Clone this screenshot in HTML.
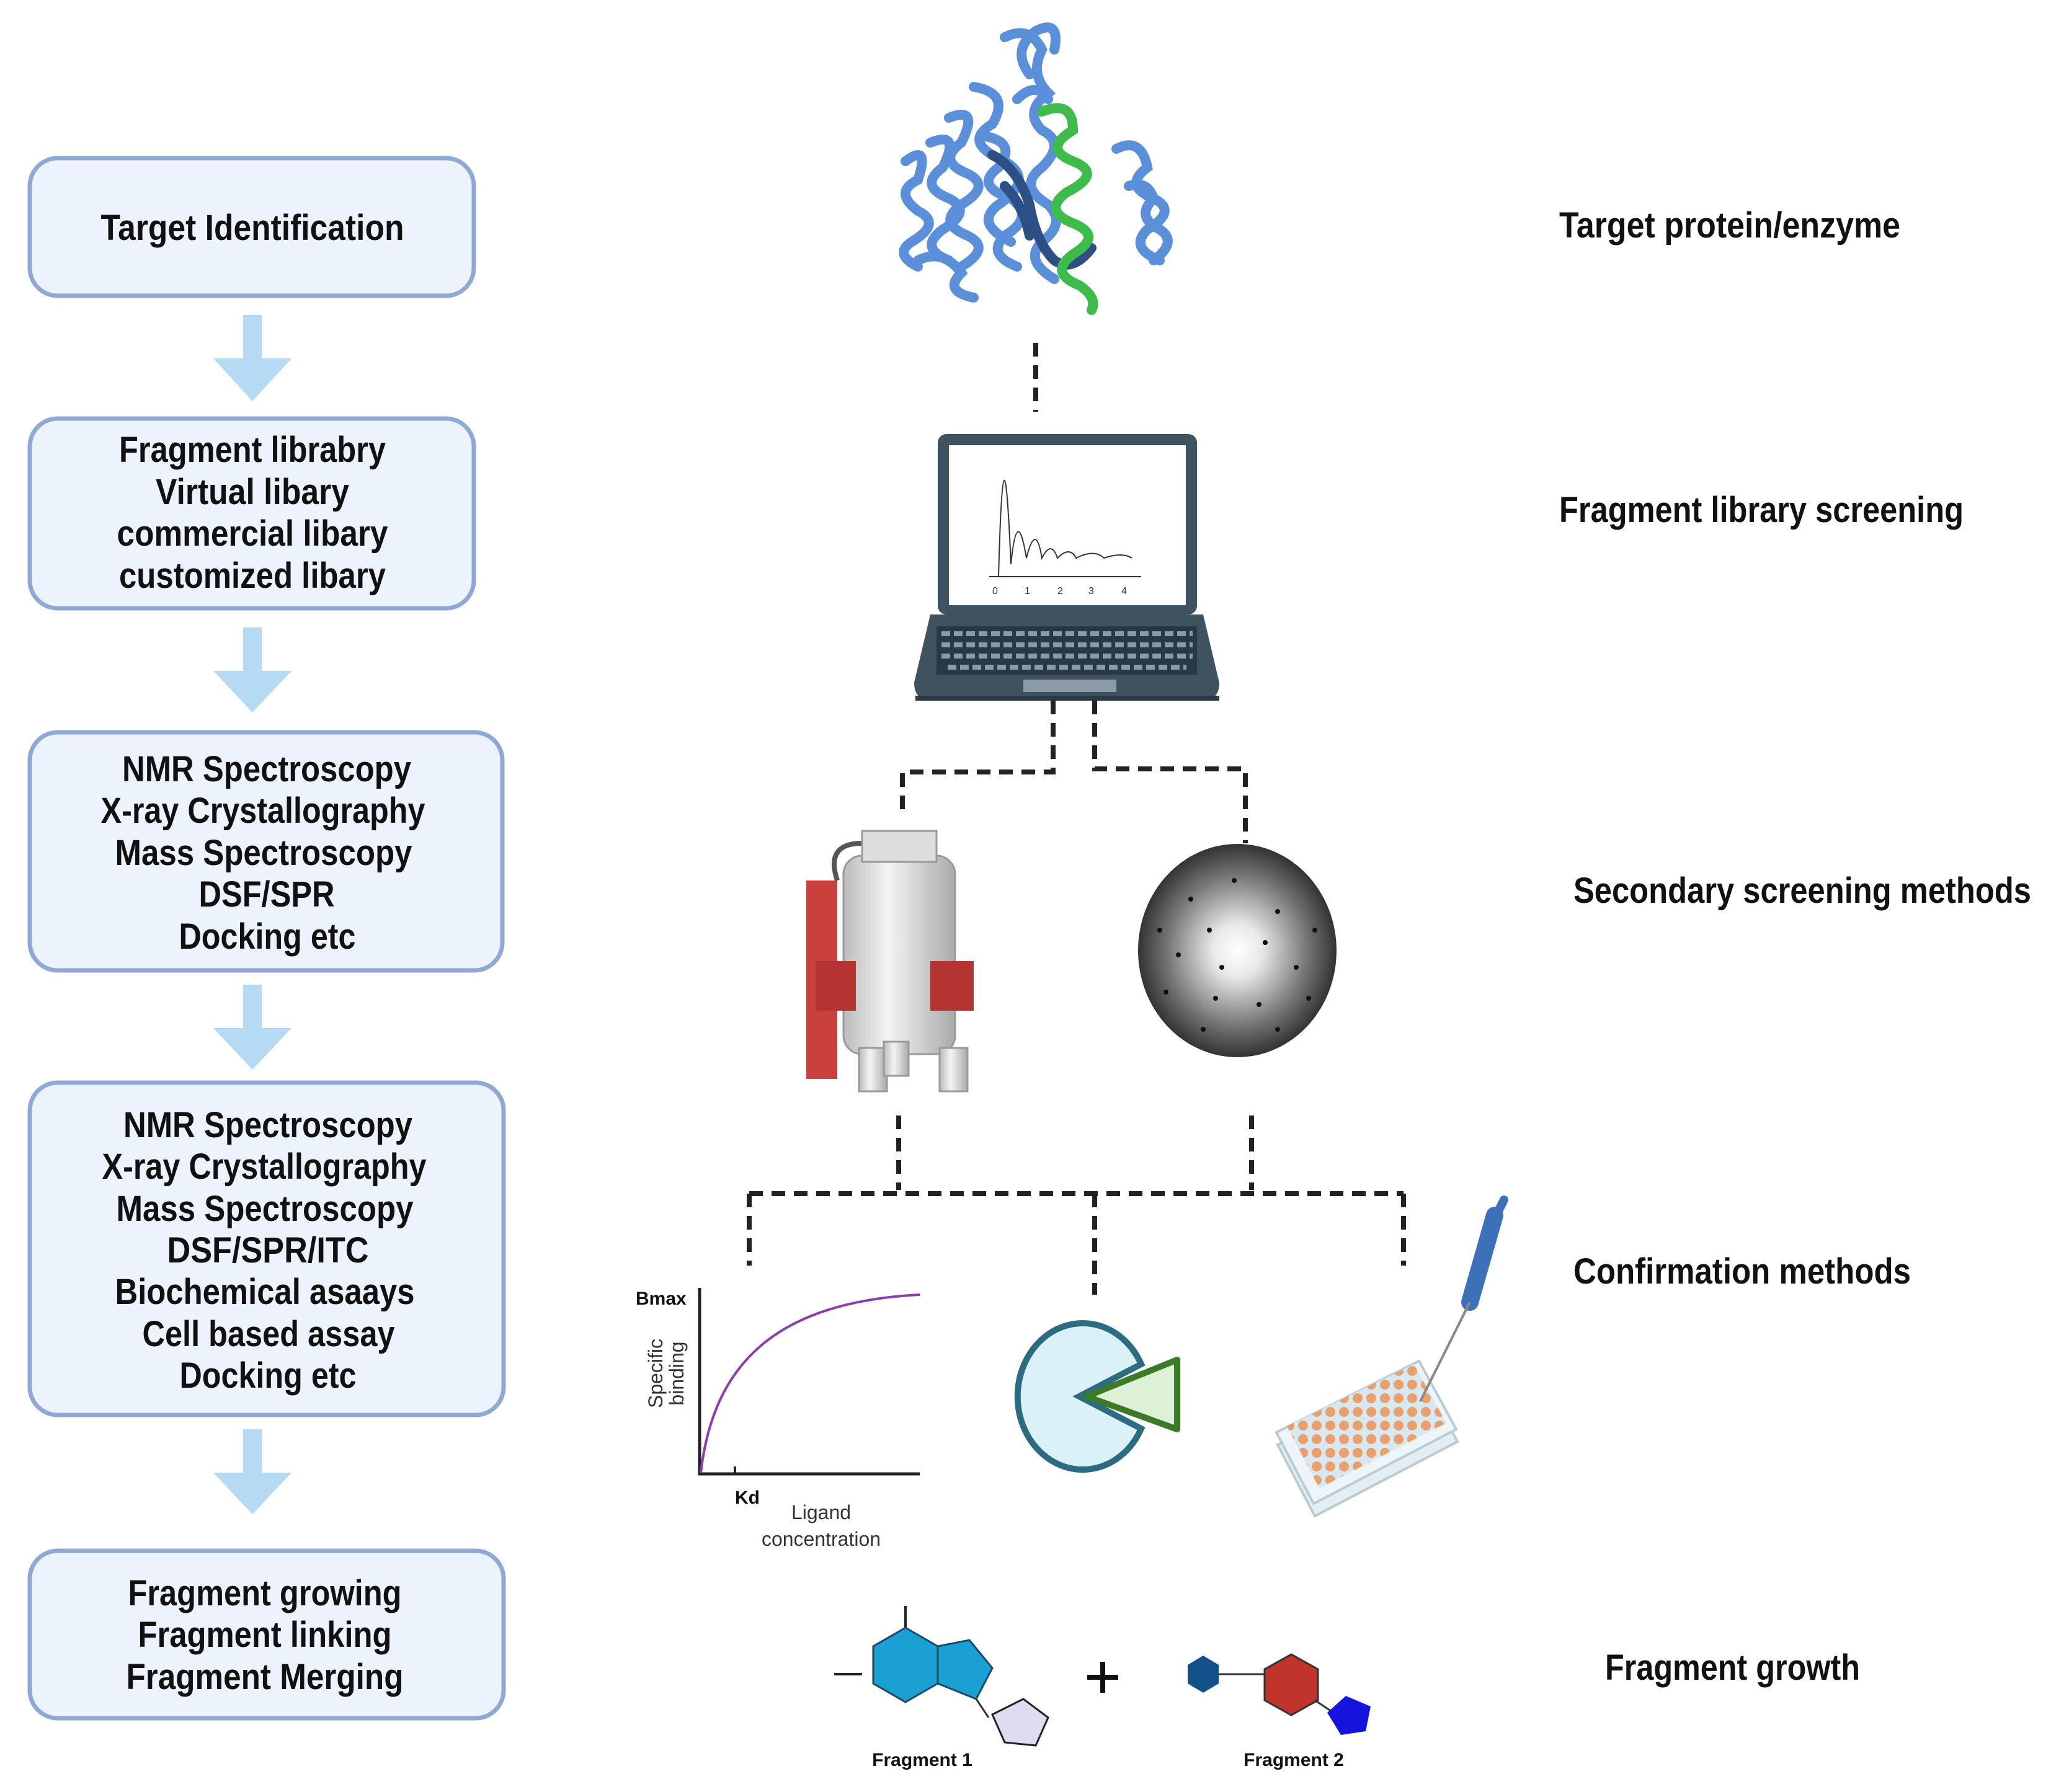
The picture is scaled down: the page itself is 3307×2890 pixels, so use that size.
<!DOCTYPE html>
<html><head><meta charset="utf-8"><style>
html,body{margin:0;padding:0;background:#fff;}
svg{display:block;}
text{font-family:"Liberation Sans",sans-serif;}
.b{font-weight:bold;font-size:58px;fill:#111;}
</style></head><body>
<svg width="3307" height="2890" viewBox="0 0 3307 2890" xmlns="http://www.w3.org/2000/svg">
<defs>
<radialGradient id="xr" cx="50%" cy="50%" r="50%">
<stop offset="0" stop-color="#fff"/><stop offset="0.25" stop-color="#e8e8e8"/><stop offset="0.7" stop-color="#777"/><stop offset="1" stop-color="#333"/>
</radialGradient>
<linearGradient id="cyl" x1="0" x2="1"><stop offset="0" stop-color="#bbb"/><stop offset="0.4" stop-color="#f4f4f4"/><stop offset="1" stop-color="#aaa"/></linearGradient>
<pattern id="wells" width="22" height="22" patternUnits="userSpaceOnUse"><rect width="22" height="22" fill="#d8e8ee"/><circle cx="11" cy="11" r="8" fill="#e9a06e"/></pattern>
</defs>
<g fill="#edf3fc" stroke="#8fa8d6" stroke-width="7">
<rect x="48" y="255" width="716" height="222" rx="45"/>
<rect x="48" y="675" width="716" height="306" rx="45"/>
<rect x="48" y="1181" width="762" height="384" rx="45"/>
<rect x="48" y="1746" width="764" height="536" rx="45"/>
<rect x="48" y="2501" width="764" height="270" rx="45"/>
</g>
<g fill="#b6daf3">
<path d="M392 508h30v70h48l-63 69l-63-69h48z"/>
<path d="M392 1012h30v70h48l-63 67l-63-67h48z"/>
<path d="M392 1588h30v70h48l-63 67l-63-67h48z"/>
<path d="M392 2305h30v70h48l-63 67l-63-67h48z"/>
</g>
<g class="b" text-anchor="middle">
<text x="407" y="387" textLength="489" lengthAdjust="spacingAndGlyphs">Target Identification</text>
<text x="407" y="745" textLength="430" lengthAdjust="spacingAndGlyphs">Fragment librabry</text>
<text x="407" y="813" textLength="312" lengthAdjust="spacingAndGlyphs">Virtual libary</text>
<text x="407" y="880" textLength="437" lengthAdjust="spacingAndGlyphs">commercial libary</text>
<text x="407" y="948" textLength="430" lengthAdjust="spacingAndGlyphs">customized libary</text>
<text x="430" y="1260" textLength="466" lengthAdjust="spacingAndGlyphs">NMR Spectroscopy</text>
<text x="424" y="1327" textLength="523" lengthAdjust="spacingAndGlyphs">X-ray Crystallography</text>
<text x="425" y="1395" textLength="479" lengthAdjust="spacingAndGlyphs">Mass Spectroscopy</text>
<text x="430" y="1462" textLength="219" lengthAdjust="spacingAndGlyphs">DSF/SPR</text>
<text x="431" y="1530" textLength="285" lengthAdjust="spacingAndGlyphs">Docking etc</text>
<text x="432" y="1834" textLength="466" lengthAdjust="spacingAndGlyphs">NMR Spectroscopy</text>
<text x="426" y="1901" textLength="523" lengthAdjust="spacingAndGlyphs">X-ray Crystallography</text>
<text x="427" y="1969" textLength="479" lengthAdjust="spacingAndGlyphs">Mass Spectroscopy</text>
<text x="432" y="2036" textLength="325" lengthAdjust="spacingAndGlyphs">DSF/SPR/ITC</text>
<text x="427" y="2103" textLength="483" lengthAdjust="spacingAndGlyphs">Biochemical asaays</text>
<text x="433" y="2171" textLength="407" lengthAdjust="spacingAndGlyphs">Cell based assay</text>
<text x="432" y="2238" textLength="285" lengthAdjust="spacingAndGlyphs">Docking etc</text>
<text x="427" y="2589" textLength="441" lengthAdjust="spacingAndGlyphs">Fragment growing</text>
<text x="427" y="2656" textLength="409" lengthAdjust="spacingAndGlyphs">Fragment linking</text>
<text x="427" y="2724" textLength="447" lengthAdjust="spacingAndGlyphs">Fragment Merging</text>
</g>
<g class="b">
<text x="2514" y="383" textLength="550" lengthAdjust="spacingAndGlyphs">Target protein/enzyme</text>
<text x="2514" y="842" textLength="652" lengthAdjust="spacingAndGlyphs">Fragment library screening</text>
<text x="2537" y="1456" textLength="738" lengthAdjust="spacingAndGlyphs">Secondary screening methods</text>
<text x="2537" y="2070" textLength="544" lengthAdjust="spacingAndGlyphs">Confirmation methods</text>
<text x="2588" y="2709" textLength="411" lengthAdjust="spacingAndGlyphs">Fragment growth</text>
</g>
<!-- protein -->
<g fill="none" stroke-linecap="round" stroke-width="16">
<g stroke="#5b8fd9">
<path d="M1460 260q40-30 20 30q-40 20 0 50q40 20-10 50q-30 20 10 40"/>
<path d="M1500 230q50-20 20 40q-40 30 10 50q40 20-10 50q-40 30 10 50"/>
<path d="M1530 190q50-20 20 40q-40 30 10 50q40 20-10 50q-40 30 10 50q40 20-10 50"/>
<path d="M1620 60q40-20 60 20q-20 40 10 70q-40 30-10 60q40 20 0 60q-40 30 10 60q30 30-10 60q-30 30 20 60"/>
<path d="M1570 140q60 10 30 60q-50 30 20 60q50 30-10 70q-40 30 20 60"/>
<path d="M1590 220q50 10 20 50q-40 30 20 50q40 30-10 60q-30 30 20 50"/>
<path d="M1800 240q40-20 50 30q-40 30 10 50q40 20-10 50q-30 30 20 50"/>
<path d="M1820 300q30-10 40 20q-30 30 10 50q30 20-10 50"/>
<path d="M1480 420q40-20 70 20q-30 30 20 40"/>
<path d="M1660 120q-30-40 10-70q40-20 30 30"/>
<path d="M1640 160q30-30 50 0"/>
</g>
<g stroke="#2e4f86"><path d="M1600 250q40 20 60 80q10 60 40 90q30 20 60-20"/><path d="M1620 300q30 30 40 80"/></g>
<g stroke="#3dbb4b"><path d="M1680 180q50-20 50 30q-50 30 0 50q50 20-10 50q-40 30 10 50q50 20 0 50q-40 30 10 50q30 20 20 40"/></g>
</g>
<path d="M1670 553V664" stroke="#222" stroke-width="8" stroke-dasharray="22 14"/>
<!-- laptop -->
<rect x="1512" y="700" width="418" height="291" rx="14" fill="#3e5260"/>
<rect x="1530" y="718" width="382" height="258" fill="#fff"/>
<path d="M1500 991h440l26 110q0 28-26 28h-440q-26 0-26-28z" fill="#3e5260"/>
<rect x="1510" y="1010" width="420" height="78" fill="#283844"/>
<g stroke="#8a9aa6" stroke-width="8" stroke-dasharray="14 6"><path d="M1518 1022h405M1518 1040h405M1518 1058h405M1528 1076h385"/></g>
<rect x="1650" y="1096" width="150" height="20" fill="#8a9aa6"/>
<path d="M1476 1126h490" stroke="#2a3944" stroke-width="8"/>
<path d="M1595 930h245" stroke="#333" stroke-width="2"/>
<path d="M1610 930q8-300 20-20q10-100 25-10q15-60 25 0q15-30 25 0q20-20 30 0q30-15 45 0q30-10 45 0" fill="none" stroke="#333" stroke-width="2"/>
<g font-size="16" fill="#333"><text x="1600" y="958">0</text><text x="1652" y="958">1</text><text x="1705" y="958">2</text><text x="1755" y="958">3</text><text x="1808" y="958">4</text></g>
<!-- dashed connectors -->
<g stroke="#222" stroke-width="8" stroke-dasharray="22 14" fill="none">
<path d="M1698 1130V1245H1455V1307"/>
<path d="M1765 1130V1240H2008V1360"/>
<path d="M1449 1799V1919"/>
<path d="M2018 1799V1919"/>
<path d="M1208 1925H2263"/>
<path d="M1208 1925V2041"/>
<path d="M1765 1925V2088"/>
<path d="M2263 1925V2041"/>
</g>
<!-- NMR -->
<rect x="1300" y="1420" width="50" height="320" fill="#c9403c"/>
<path d="M1350 1420q-20-60 40-60" fill="none" stroke="#555" stroke-width="8"/>
<rect x="1360" y="1380" width="180" height="320" rx="30" fill="url(#cyl)" stroke="#999" stroke-width="3"/>
<rect x="1390" y="1340" width="120" height="50" fill="#ddd" stroke="#999" stroke-width="3"/>
<rect x="1315" y="1550" width="65" height="80" fill="#b53331"/>
<rect x="1500" y="1550" width="70" height="80" fill="#b53331"/>
<g fill="url(#cyl)" stroke="#999" stroke-width="3"><rect x="1385" y="1690" width="45" height="70"/><rect x="1515" y="1690" width="45" height="70"/><rect x="1425" y="1680" width="40" height="55"/></g>
<!-- diffraction -->
<ellipse cx="1995" cy="1533" rx="160" ry="172" fill="url(#xr)"/>
<g fill="#111">
<circle cx="1920" cy="1450" r="4"/><circle cx="2060" cy="1470" r="4"/><circle cx="1900" cy="1540" r="4"/><circle cx="2090" cy="1560" r="4"/><circle cx="1960" cy="1610" r="4"/><circle cx="2030" cy="1620" r="4"/><circle cx="1870" cy="1500" r="4"/><circle cx="2120" cy="1500" r="4"/><circle cx="1990" cy="1420" r="4"/><circle cx="1940" cy="1660" r="4"/><circle cx="2060" cy="1660" r="4"/><circle cx="1880" cy="1600" r="4"/><circle cx="2110" cy="1610" r="4"/><circle cx="1950" cy="1500" r="4"/><circle cx="2040" cy="1520" r="4"/><circle cx="1970" cy="1560" r="4"/>
</g>
<!-- graph -->
<path d="M1128 2077V2377H1483" fill="none" stroke="#222" stroke-width="5"/>
<path d="M1185 2377v-12" stroke="#222" stroke-width="4"/>
<path d="M1130 2375C1150 2200 1250 2100 1483 2088" fill="none" stroke="#8a3fb0" stroke-width="4"/>
<text x="1025" y="2104" font-size="30" font-weight="bold" fill="#111">Bmax</text>
<text x="1185" y="2425" font-size="30" font-weight="bold" fill="#111">Kd</text>
<text x="1324" y="2450" font-size="32" fill="#333" text-anchor="middle">Ligand</text>
<text x="1324" y="2493" font-size="32" fill="#333" text-anchor="middle">concentration</text>
<text transform="translate(1068 2215) rotate(-90)" font-size="32" fill="#333" text-anchor="middle">Specific</text>
<text transform="translate(1102 2215) rotate(-90)" font-size="32" fill="#333" text-anchor="middle">binding</text>
<!-- pacman -->
<path d="M1740 2252L1840 2200A105 118 0 1 0 1840 2304Z" fill="#daf1f7" stroke="#2c6b80" stroke-width="10"/>
<path d="M1752 2252L1898 2193V2305Z" fill="#dcf1d6" stroke="#3d7a28" stroke-width="10" stroke-linejoin="round"/>
<!-- plate & pipette -->
<path d="M2060 2330l230-115l60 110l-230 120z" fill="#e4eef2" stroke="#b8ccd6" stroke-width="4"/>
<path d="M2058 2310l230-115l60 110l-230 120z" fill="#eef5f8" stroke="#b8ccd6" stroke-width="4"/>
<path d="M2075 2300l205-100l52 95l-205 105z" fill="url(#wells)"/>
<path d="M2410 1960l-40 140" stroke="#3c70b8" stroke-width="28" stroke-linecap="round"/>
<path d="M2415 1955l10-20" stroke="#3c70b8" stroke-width="14" stroke-linecap="round"/>
<path d="M2370 2100l-80 160" stroke="#888" stroke-width="4"/>
<!-- fragments -->
<path d="M1345 2700H1390" stroke="#222" stroke-width="4"/>
<path d="M1460 2590V2625" stroke="#222" stroke-width="4"/>
<polygon points="1460,2625 1512,2655 1512,2715 1460,2745 1408,2715 1408,2655" fill="#1aa0d2" stroke="#1a4a66" stroke-width="3"/>
<polygon points="1512,2655 1563,2645 1600,2690 1574,2740 1512,2715" fill="#1aa0d2" stroke="#1a4a66" stroke-width="3"/>
<path d="M1574 2740l20 30" stroke="#333" stroke-width="3"/>
<polygon points="1600,2765 1650,2740 1690,2770 1670,2815 1620,2810" fill="#dedcf3" stroke="#222" stroke-width="3"/>
<path d="M1778 2680v50M1753 2705h50" stroke="#111" stroke-width="8"/>
<polygon points="1940,2670 1965,2685 1965,2715 1940,2730 1915,2715 1915,2685" fill="#145089"/>
<path d="M1965 2700H2040" stroke="#333" stroke-width="3"/>
<polygon points="2082,2668 2125,2692 2125,2742 2082,2766 2039,2742 2039,2692" fill="#c0342c" stroke="#333" stroke-width="3"/>
<path d="M2120 2742l30 20" stroke="#333" stroke-width="3"/>
<polygon points="2170,2735 2210,2752 2202,2792 2162,2798 2140,2762" fill="#1414dd"/>
<text x="1487" y="2848" font-size="30" font-weight="bold" fill="#111" text-anchor="middle">Fragment 1</text>
<text x="2086" y="2848" font-size="30" font-weight="bold" fill="#111" text-anchor="middle">Fragment 2</text>
</svg>
</body></html>
